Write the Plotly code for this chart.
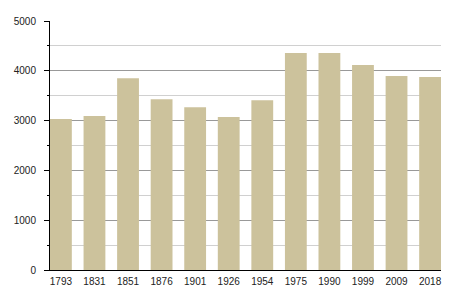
import plotly.graph_objects as go

years = ["1793", "1831", "1851", "1876", "1901", "1926", "1954", "1975", "1990", "1999", "2009", "2018"]
population = [3030, 3090, 3850, 3430, 3270, 3070, 3410, 4355, 4355, 4115, 3895, 3875]
y_ticks = [0, 1000, 2000, 3000, 4000, 5000]

positions = list(range(len(years)))

fig = go.Figure()
fig.add_trace(go.Bar(
    x=positions,
    y=population,
    width=0.65,
    marker=dict(color="#ccc29c", line=dict(width=0)),
    hoverinfo="skip",
))

fig.update_layout(
    width=450,
    height=300,
    margin=dict(l=50, r=9, t=21, b=30),
    paper_bgcolor="white",
    plot_bgcolor="white",
    showlegend=False,
    font=dict(family="Liberation Sans, Arial, sans-serif", size=10, color="#222"),
    xaxis=dict(
        tickmode="array",
        tickvals=positions,
        ticktext=years,
        range=[-0.325, len(years) - 1 + 0.325],
        showgrid=False,
        zeroline=False,
        showline=True,
        linecolor="black",
        linewidth=1,
        ticks="",
        ticklabelstandoff=2,
    ),
    yaxis=dict(
        range=[0, 5000],
        tickmode="array",
        tickvals=y_ticks,
        showgrid=True,
        gridcolor="#999999",
        gridwidth=1,
        zeroline=False,
        showline=True,
        linecolor="black",
        linewidth=1,
        ticks="outside",
        ticklen=5,
        tickcolor="black",
        ticklabelstandoff=6,
        minor=dict(
            dtick=500,
            tick0=0,
            showgrid=True,
            gridcolor="#d0d0d0",
            gridwidth=1,
            ticks="outside",
            ticklen=2,
            tickcolor="black",
        ),
    ),
)

fig.write_html("out.html")
